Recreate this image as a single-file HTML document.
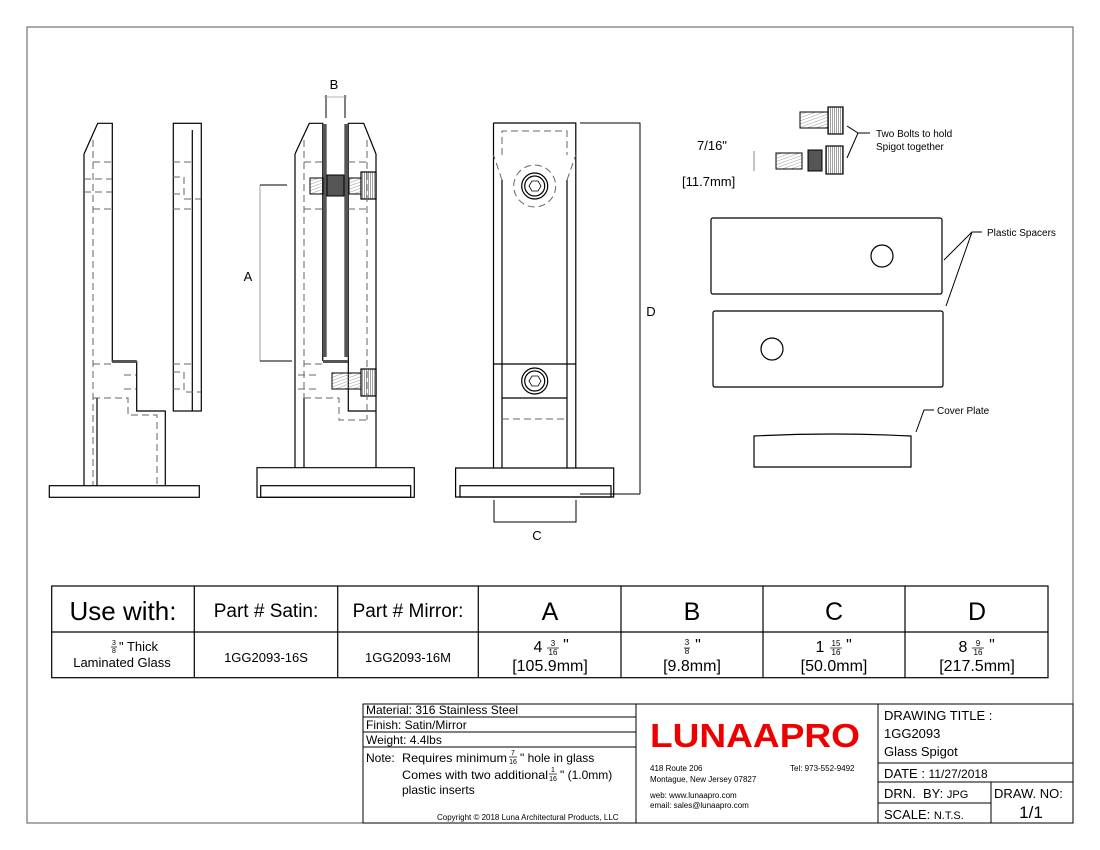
<!DOCTYPE html>
<html><head><meta charset="utf-8"><style>
html,body{margin:0;padding:0;background:#fff}
svg{display:block}
text{font-family:"Liberation Sans",Arial,sans-serif;fill:#000;white-space:pre}
</style></head><body>
<svg width="1100" height="850" viewBox="0 0 1100 850" xmlns="http://www.w3.org/2000/svg">
<defs>
<pattern id="h" width="3" height="3" patternUnits="userSpaceOnUse" patternTransform="rotate(70)"><line x1="0" y1="0" x2="0" y2="3" stroke="#999" stroke-width="1"/></pattern>
<pattern id="v" width="2" height="3" patternUnits="userSpaceOnUse"><line x1="0.5" y1="0" x2="0.5" y2="3" stroke="#777" stroke-width="0.7"/></pattern>
</defs>
<rect x="27" y="27" width="1046" height="796" fill="none" stroke="#555" stroke-width="1"/>
<g fill="none" stroke="#000" stroke-width="1.2">
<path d="M84,154 L97.7,123.3 L112.3,123.3 L112.3,361.7 L136.7,361.7 L136.7,411 L165.3,411 L165.3,485.7"/>
<path d="M84,154 L84,485.7"/>
<line x1="97" y1="398" x2="97" y2="486"/>
<rect x="49.3" y="485.7" width="150" height="11.6"/>
<rect x="173.3" y="123.3" width="28" height="287.7"/>
<line x1="192.3" y1="130" x2="192.3" y2="411"/>
</g>
<rect x="112.3" y="360" width="24.4" height="3" fill="#555"/>
<g fill="none" stroke="#666" stroke-width="1" stroke-dasharray="7,4">
<line x1="93" y1="140" x2="93" y2="485"/>
<line x1="93" y1="162" x2="112" y2="162"/><line x1="93" y1="209" x2="112" y2="209"/>
<line x1="93" y1="364" x2="112" y2="364"/>
<path d="M84,179 H112 M84,192 H112"/>
<path d="M124,375 H136 M124,389 H136"/>
<path d="M93,398 H128 V415 H157 V485"/>
<line x1="173" y1="162" x2="192" y2="162"/><line x1="173" y1="209" x2="192" y2="209"/>
<line x1="173" y1="364" x2="192" y2="364"/>
<path d="M173,177 H184 V199 H201 M173,194 H184 M173,372 H184 V392 H201 M173,389 H184"/>
</g>
<g fill="none" stroke="#000" stroke-width="1.2">
<path d="M295,154 L309.3,123.3 L322.7,123.3 L322.7,361 M295,154 L295,467.7"/>
<line x1="304" y1="398" x2="304" y2="467.7"/>
<path d="M348.3,123.3 L363.7,123.3 L376,154 L376,467.7 M348.3,123 L348.3,411 L376,411"/>
<path d="M257,467.7 H414.3 V497.3 H257 Z"/>
<rect x="260.7" y="485.7" width="150" height="11.6"/>
<line x1="326" y1="95" x2="326" y2="118" stroke="#000" stroke-width="1"/>
<line x1="345" y1="95" x2="345" y2="118" stroke="#000" stroke-width="1"/>
<line x1="324" y1="97" x2="347" y2="97" stroke="#999" stroke-width="0.8"/>
<line x1="260" y1="185" x2="260" y2="361" stroke="#888" stroke-width="0.8"/>
<line x1="260" y1="185" x2="287" y2="185" stroke-width="1"/>
<line x1="260" y1="361" x2="292" y2="361" stroke-width="1"/>
</g>
<rect x="322.7" y="124" width="4" height="233" fill="#555"/>
<rect x="344.3" y="124" width="4" height="233" fill="#555"/>
<rect x="323" y="360" width="25" height="3" fill="#555"/>
<rect x="310" y="178" width="13" height="16" fill="url(#h)" stroke="#000"/>
<rect x="327" y="175" width="17" height="21" fill="#555" stroke="#000"/>
<rect x="349" y="178" width="12" height="16" fill="url(#h)" stroke="#000"/>
<rect x="361" y="172" width="15" height="27" fill="url(#v)" stroke="#000" stroke-width="1.2"/>
<rect x="332" y="373" width="29" height="16" fill="url(#h)" stroke="#000"/>
<rect x="361" y="369" width="15" height="27" fill="url(#v)" stroke="#000" stroke-width="1.2"/>
<g fill="none" stroke="#666" stroke-width="1" stroke-dasharray="7,4">
<line x1="304" y1="140" x2="304" y2="398"/><line x1="367" y1="140" x2="367" y2="420"/>
<line x1="304" y1="162" x2="322" y2="162"/><line x1="348" y1="162" x2="367" y2="162"/>
<line x1="304" y1="209" x2="322" y2="209"/><line x1="348" y1="209" x2="367" y2="209"/>
<line x1="304" y1="364" x2="322" y2="364"/>
<path d="M304,398 H339 V420 H367"/>
<path d="M298,375 H320 M298,389 H320"/>
</g>
<text x="334" y="89" font-size="13" text-anchor="middle">B</text>
<text x="248" y="281" font-size="13" text-anchor="middle">A</text>
<g fill="none" stroke="#000" stroke-width="1.2">
<path d="M493.5,123 H575.8 V467.7 M493.5,123 V467.7"/>
<path d="M502,180 V467.7 M567,180 V467.7"/>
<line x1="493.5" y1="364" x2="575.8" y2="364"/>
<line x1="502" y1="398" x2="567" y2="398"/>
<path d="M455.6,468 H613.7 V497 H455.6 Z"/>
<rect x="460" y="485.7" width="151" height="11.3"/>
<circle cx="534.7" cy="186" r="13"/><circle cx="534.7" cy="186" r="10"/>
<polygon points="529,186 532,181 538,181 541,186 538,191 532,191" stroke-width="0.8"/>
<circle cx="534.7" cy="381" r="13"/><circle cx="534.7" cy="381" r="10"/>
<polygon points="529,381 532,376 538,376 541,381 538,386 532,386" stroke-width="0.8"/>
<path d="M580,123 H640 V494 M580,494 H640" stroke-width="1"/>
<path d="M494,500 V522 H576 V500" stroke-width="1"/>
</g>
<g fill="none" stroke="#666" stroke-width="1" stroke-dasharray="7,4">
<path d="M502,155 V131 H567 V155"/>
<path d="M502,180 L493.5,155 M567,180 L575.8,155"/>
<circle cx="534.7" cy="186" r="21"/>
<line x1="502" y1="419" x2="567" y2="419"/>
</g>
<text x="651" y="316" font-size="13" text-anchor="middle">D</text>
<text x="537" y="540" font-size="13" text-anchor="middle">C</text>
<rect x="800" y="112" width="28" height="16" fill="url(#h)" stroke="#000"/>
<rect x="828" y="107" width="15" height="27" fill="url(#v)" stroke="#000" stroke-width="1.2"/>
<rect x="776" y="153" width="26" height="16" fill="url(#h)" stroke="#000"/>
<rect x="808" y="150" width="14" height="21" fill="#555" stroke="#000"/>
<rect x="826" y="146" width="17" height="28" fill="url(#v)" stroke="#000" stroke-width="1.2"/>
<path d="M754,151 V171" stroke="#888" fill="none"/>
<path d="M870,133 H858 L847,126 M858,133 L847,158" stroke="#000" fill="none"/>
<text x="876" y="137" font-size="10">Two Bolts to hold</text>
<text x="876" y="150" font-size="10">Spigot together</text>
<text x="697" y="150" font-size="13">7/16"</text>
<text x="682" y="186" font-size="13">[11.7mm]</text>
<g fill="none" stroke="#000" stroke-width="1.2">
<rect x="711" y="218" width="231" height="76" rx="2"/>
<circle cx="882" cy="256" r="11"/>
<rect x="713" y="311" width="230" height="76" rx="2"/>
<circle cx="772" cy="349" r="11"/>
<path d="M982,232 H972 L944,260 M972,232 L946,306" stroke-width="1"/>
<path d="M754,436 Q832,432 911,436 V467 H754 Z"/>
<path d="M934,410 H924 L916,432" stroke-width="1"/>
</g>
<text x="987" y="236" font-size="10">Plastic Spacers</text>
<text x="937" y="414" font-size="10">Cover Plate</text>
<g fill="none" stroke="#000" stroke-width="1.2">
<rect x="51.7" y="586" width="996.3" height="91.7"/>
<line x1="51.7" y1="632" x2="1048" y2="632"/>
<line x1="194.3" y1="586" x2="194.3" y2="677.7"/>
<line x1="337.7" y1="586" x2="337.7" y2="677.7"/>
<line x1="478.3" y1="586" x2="478.3" y2="677.7"/>
<line x1="621" y1="586" x2="621" y2="677.7"/>
<line x1="763" y1="586" x2="763" y2="677.7"/>
<line x1="905" y1="586" x2="905" y2="677.7"/>
</g>
<g stroke="#000" stroke-width="0.7">
<line x1="111" y1="647" x2="117" y2="647"/>
<line x1="547" y1="648" x2="559" y2="648"/>
<line x1="684" y1="648" x2="690" y2="648"/>
<line x1="830" y1="648" x2="842" y2="648"/>
<line x1="972" y1="648" x2="984" y2="648"/>
<line x1="509" y1="757" x2="517" y2="757"/>
<line x1="549" y1="774" x2="557" y2="774"/>
</g>
<g font-size="16" text-anchor="middle">
<text x="123" y="620" font-size="26">Use with:</text>
<text x="266" y="617" font-size="19">Part # Satin:</text>
<text x="408" y="617" font-size="19">Part # Mirror:</text>
<text x="550" y="620" font-size="25">A</text>
<text x="692" y="620" font-size="25">B</text>
<text x="834" y="620" font-size="25">C</text>
<text x="977" y="620" font-size="25">D</text>
<text x="119" y="651" font-size="13" text-anchor="start">" Thick</text>
<text x="114" y="645" font-size="7">3</text><text x="114" y="653" font-size="7">8</text>
<text x="122" y="667" font-size="13">Laminated Glass</text>
<text x="266" y="662" font-size="13">1GG2093-16S</text>
<text x="408" y="662" font-size="13">1GG2093-16M</text>
<text x="538" y="652">4</text><text x="553" y="646" font-size="8">3</text><text x="553" y="655" font-size="8">16</text><text x="566" y="650">"</text>
<text x="550" y="671">[105.9mm]</text>
<text x="687" y="645" font-size="8">3</text><text x="687" y="654" font-size="8">8</text><text x="698" y="650">"</text>
<text x="692" y="671">[9.8mm]</text>
<text x="820" y="652">1</text><text x="836" y="646" font-size="8">15</text><text x="836" y="655" font-size="8">16</text><text x="849" y="650">"</text>
<text x="834" y="671">[50.0mm]</text>
<text x="963" y="652">8</text><text x="978" y="646" font-size="8">9</text><text x="978" y="655" font-size="8">16</text><text x="992" y="650">"</text>
<text x="977" y="671">[217.5mm]</text>
</g>
<g fill="none" stroke="#000" stroke-width="1">
<rect x="363" y="704" width="710" height="119"/>
<line x1="363" y1="717" x2="636" y2="717"/>
<line x1="363" y1="732" x2="636" y2="732"/>
<line x1="363" y1="747" x2="636" y2="747"/>
<line x1="636" y1="704" x2="636" y2="823"/>
<line x1="878" y1="704" x2="878" y2="823"/>
<line x1="878" y1="763" x2="1073" y2="763"/>
<line x1="878" y1="782" x2="1073" y2="782"/>
<line x1="878" y1="803" x2="991" y2="803"/>
<line x1="991" y1="782" x2="991" y2="823"/>
</g>
<g font-size="12">
<text x="366" y="714">Material: 316 Stainless Steel</text>
<text x="366" y="729">Finish: Satin/Mirror</text>
<text x="366" y="744">Weight: 4.4lbs</text>
<text x="366" y="762">Note:</text>
<text x="402" y="762" textLength="105" lengthAdjust="spacingAndGlyphs">Requires minimum</text>
<text x="520" y="762">" hole in glass</text>
<text x="513" y="755" font-size="7" text-anchor="middle">7</text><text x="513" y="764" font-size="7" text-anchor="middle">16</text>
<text x="402" y="779" textLength="146" lengthAdjust="spacingAndGlyphs">Comes with two additional</text>
<text x="560" y="779">" (1.0mm)</text>
<text x="553" y="772" font-size="7" text-anchor="middle">1</text><text x="553" y="781" font-size="7" text-anchor="middle">16</text>
<text x="402" y="794">plastic inserts</text>
<text x="437" y="820" font-size="8">Copyright © 2018 Luna Architectural Products, LLC</text>
</g>
<text x="650" y="747" font-size="33" font-weight="bold" style="fill:#e00" textLength="210" lengthAdjust="spacingAndGlyphs">LUNAAPRO</text>
<g font-size="8">
<text x="650" y="771">418 Route 206</text>
<text x="650" y="782">Montague, New Jersey 07827</text>
<text x="790" y="771">Tel: 973-552-9492</text>
<text x="650" y="798">web: www.lunaapro.com</text>
<text x="650" y="808">email: sales@lunaapro.com</text>
</g>
<g font-size="13">
<text x="884" y="720">DRAWING TITLE :</text>
<text x="884" y="738">1GG2093</text>
<text x="884" y="756">Glass Spigot</text>
<text x="884" y="778">DATE : <tspan font-size="12">11/27/2018</tspan></text>
<text x="884" y="798">DRN.  BY: <tspan font-size="11">JPG</tspan></text>
<text x="884" y="819">SCALE: <tspan font-size="11">N.T.S.</tspan></text>
<text x="994" y="798">DRAW. NO:</text>
<text x="1031" y="818" font-size="17" text-anchor="middle">1/1</text>
</g>
</svg>
</body></html>
